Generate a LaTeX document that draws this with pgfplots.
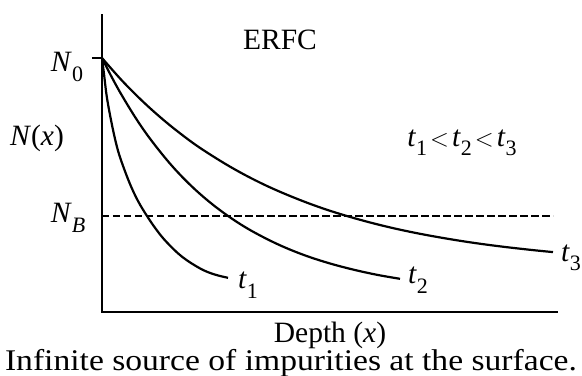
\documentclass[border=0pt]{standalone}
\usepackage{fontspec}
\setmainfont{Liberation Serif}
\usepackage{pgfplots}
\pgfplotsset{compat=1.18}
\newcommand\lbl{\fontsize{29.5bp}{31bp}\selectfont}
\newcommand\sub[1]{\raisebox{-0.32em}{\fontsize{22bp}{22bp}\selectfont #1}}
\newcommand\lt{\hspace{3bp}$<$\hspace{3bp}}
\begin{document}
\begin{tikzpicture}
\begin{axis}[
  scale only axis, width=455bp, height=297bp,
  xmin=0, xmax=455, ymin=0, ymax=297,
  axis x line=bottom, axis y line=left,
  axis line style={-, line width=2.8bp, line cap=rect},
  xtick=\empty, ytick={254}, yticklabels={},
  tick align=outside, major tick length=10bp,
  tick style={line width=1.2bp, black},
  clip=false]
% erfc profiles for three diffusion times
\addplot[black, line width=2.2bp, smooth, tension=0.6] coordinates {
  (0,254) (2,238) (5,214) (10,187) (15,165) (20,149) (28,128) (36,111)
  (45,96) (55,81.5) (65,69.5) (80,55.3) (98,43.6) (112,37.7) (126,34.2)};
\addplot[black, line width=2.2bp, smooth, tension=0.6] coordinates {
  (0,254) (10,234.4) (20,216.4) (35,192.0) (50,170.7) (70,146.1)
  (90,125.4) (110,108.0) (130,93.3) (150,80.9) (175,68.1) (200,57.7)
  (225,49.4) (250,42.7) (275,37.2) (298,33.2)};
\addplot[black, line width=2.2bp, smooth, tension=0.6] coordinates {
  (0,254) (20,231.4) (40,211.3) (60,193.3) (80,177.2) (100,162.8)
  (130,144.2) (160,128.4) (190,115.2) (220,103.9) (250,94.5) (280,86.5)
  (310,79.8) (340,74.2) (370,69.4) (400,65.4) (430,62.0) (451,59.9)};
% background doping level
\addplot[black, line width=1.4bp, dash pattern=on 7.5bp off 3.5bp] coordinates {(0,96) (451,96)};
\node at (axis cs:-35,245) {\lbl\textit{N}\sub{0}};
\node at (axis cs:-65,174) {\lbl\textit{N}(\textit{x})};
\node at (axis cs:-34,94) {\lbl\textit{N}\sub{\textit{B}}};
\node at (axis cs:178,272) {\lbl ERFC};
\node at (axis cs:360,169) {\lbl\textit{t}\sub{1}\lt\textit{t}\sub{2}\lt\textit{t}\sub{3}};
\node at (axis cs:146,27) {\lbl\textit{t}\sub{1}};
\node at (axis cs:316,32) {\lbl\textit{t}\sub{2}};
\node at (axis cs:469,54) {\lbl\textit{t}\sub{3}};
\node[anchor=base] at (axis cs:228,-30) {\lbl Depth (\textit{x})};
\node[anchor=base, xscale=1.12] at (axis cs:189,-58) {\fontsize{30bp}{31bp}\selectfont Infinite source of impurities at the surface.};
\end{axis}
\pgfresetboundingbox
\useasboundingbox (-102bp,-64bp) rectangle (480bp,312bp);
\end{tikzpicture}
\end{document}
